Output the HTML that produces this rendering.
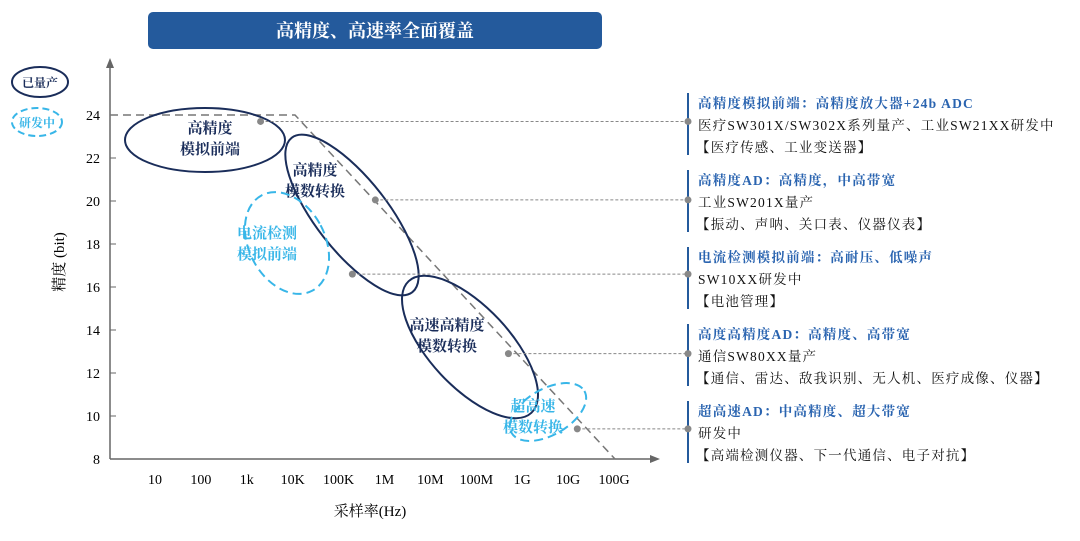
<!DOCTYPE html>
<html><head><meta charset="utf-8"><style>
body{margin:0;background:#fff;}
svg{display:block;font-family:"Liberation Serif","Noto Serif CJK SC",serif;}
</style></head><body>
<svg width="1080" height="541" viewBox="0 0 1080 541">
<rect x="148" y="12" width="454" height="37" rx="5" fill="#245a9c"/>
<text x="375" y="37" text-anchor="middle" fill="#fff" font-size="18" font-weight="bold">高精度、高速率全面覆盖</text>
<ellipse cx="40" cy="82" rx="28" ry="15" fill="none" stroke="#1a2d5a" stroke-width="2"/>
<text x="40" y="87" text-anchor="middle" font-size="12" font-weight="bold" fill="#1a2d5a">已量产</text>
<ellipse cx="37" cy="122" rx="25" ry="14" fill="none" stroke="#38b6e8" stroke-width="2" stroke-dasharray="7,4"/>
<text x="37" y="127" text-anchor="middle" font-size="12" font-weight="bold" fill="#38b6e8">研发中</text>
<g id="axes"></g>
<g id="regions"></g>
<g id="marks"></g>
<g id="notes"></g>
<text x="370" y="516" text-anchor="middle" font-size="15">采样率(Hz)</text>
<text transform="translate(64,262) rotate(-90)" text-anchor="middle" font-size="15">精度 (bit)</text>
</svg>
<script>
const xLabels=["10","100","1k","10K","100K","1M","10M","100M","1G","10G","100G"];
const yTicks=[8,10,12,14,16,18,20,22,24];
const pointLog=[3.3,5.8,5.3,8.7,10.2];
const pointBits=[23.7,20.05,16.6,12.9,9.4];
const notes=[
 ["高精度模拟前端：高精度放大器+24b ADC","医疗SW301X/SW302X系列量产、工业SW21XX研发中","【医疗传感、工业变送器】"],
 ["高精度AD：高精度，中高带宽","工业SW201X量产","【振动、声呐、关口表、仪器仪表】"],
 ["电流检测模拟前端：高耐压、低噪声","SW10XX研发中","【电池管理】"],
 ["高度高精度AD：高精度、高带宽","通信SW80XX量产","【通信、雷达、敌我识别、无人机、医疗成像、仪器】"],
 ["超高速AD：中高精度、超大带宽","研发中","【高端检测仪器、下一代通信、电子对抗】"]];
const NS="http://www.w3.org/2000/svg";
const X=l=>155+(l-1)*45.9;
const Y=b=>459-(b-8)*21.5;
function mk(t,a,p){const e=document.createElementNS(NS,t);for(const k in a)e.setAttribute(k,a[k]);p.appendChild(e);return e;}
const ax=document.getElementById('axes');
let e=mk('line',{x1:110,y1:459,x2:110,y2:66,stroke:'#666','stroke-width':1.5},ax);

e=mk('line',{x1:110,y1:459,x2:652,y2:459,stroke:'#666','stroke-width':1.5},ax);

mk('polygon',{points:'106,68 114,68 110,58',fill:'#666'},ax);
mk('polygon',{points:'650,455 650,463 660,459',fill:'#666'},ax);
yTicks.forEach(v=>{mk('line',{x1:110,y1:Y(v),x2:116,y2:Y(v),stroke:'#666'},ax);
 const t=mk('text',{x:100,y:Y(v)+5,'text-anchor':'end','font-size':14},ax);t.textContent=v;
 });
xLabels.forEach((s,i)=>{const t=mk('text',{x:X(i+1),y:484,'text-anchor':'middle','font-size':14},ax);t.textContent=s;
 });
e=mk('polyline',{points:`110,${Y(24)} 295,${Y(24)} 615,459`,fill:'none',stroke:'#777','stroke-width':1.5,'stroke-dasharray':'8,5'},ax);

const rg=document.getElementById('regions');
const regs=[[205,140,80,32,0,0,'高精度','模拟前端'],[352,215,98,36,52,0,'高精度','模数转换'],[287,243,38,54,-28,1,'电流检测','模拟前端'],[470,347,90,40,47,0,'高速高精度','模数转换'],[548,412,42,23,-30,1,'超高速','模数转换']];
const tpos=[[210,133],[315,175],[267,238],[447,330],[533,411]];
regs.forEach((r,i)=>{const c=r[5]?'#38b6e8':'#1a2d5a';
 const el=mk('ellipse',{cx:r[0],cy:r[1],rx:r[2],ry:r[3],transform:`rotate(${r[4]} ${r[0]} ${r[1]})`,fill:'none',stroke:c,'stroke-width':2,'stroke-dasharray':r[5]?'9,5':'none'},rg);
 
 [r[6],r[7]].forEach((s,j)=>{const t=mk('text',{x:tpos[i][0],y:tpos[i][1]+j*21,'text-anchor':'middle','font-size':15,'font-weight':'bold',fill:c},rg);t.textContent=s;
 });});
const mg=document.getElementById('marks');
const rowY=[103,180,257,334,411];
rowY.forEach((ry,i)=>{const l=mk('line',{x1:688,y1:ry-10,x2:688,y2:ry+52,stroke:'#245a9c','stroke-width':2},mg);
 });
pointLog.forEach((l,i)=>{const px=X(l),py=Y(pointBits[i]);
 const d=mk('line',{x1:px,y1:py,x2:688,y2:py,stroke:'#888','stroke-width':1,'stroke-dasharray':'3,2'},mg);
 
 const c=mk('circle',{cx:px,cy:py,r:3.5,fill:'#888'},mg);
 
 mk('circle',{cx:688,cy:py,r:3.5,fill:'#888'},mg);});
const ng=document.getElementById('notes');
notes.forEach((n,i)=>{n.forEach((s,j)=>{const t=mk('text',{x:j==2?696:698,y:rowY[i]+5+j*22,'font-size':13.5,'letter-spacing':1.2,'font-weight':j==0?'bold':'normal',fill:j==0?'#2a64b0':'#111'},ng);t.textContent=s;
 });});
</script>
</body></html>
